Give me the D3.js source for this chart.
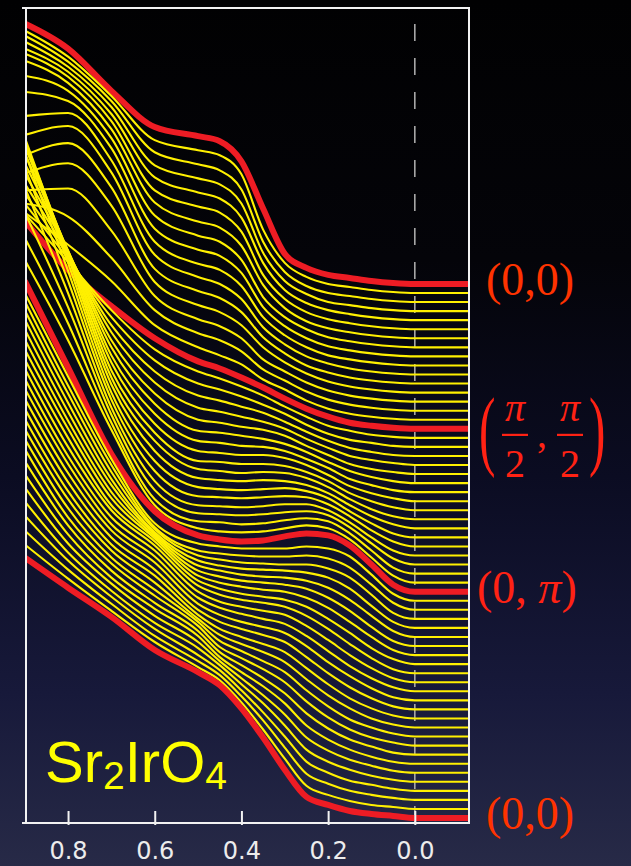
<!DOCTYPE html>
<html>
<head>
<meta charset="utf-8">
<script src="https://cdn.jsdelivr.net/npm/d3@7"></script>
<style>
  html, body { margin: 0; padding: 0; background: #000; }
  svg { display: block; }
</style>
</head>
<body>
<svg id="chart" width="631" height="866"></svg>
<script>
// Binding energy grid (eV) shared by every energy distribution curve
const energies = [0.9, 0.8, 0.7, 0.6, 0.5, 0.45, 0.4, 0.35, 0.3, 0.25, 0.2, 0.15, 0.1, 0.05, 0.0, -0.125];

// Intensities (a.u.) along (0,0) -> (pi/2,pi/2); first row is the (0,0) spectrum
const cutGammaToS = [
  [259,234,192,156,147,142,122,75,30,16,9,6,3,1,0,0],
  [261,235,196,152,142,137,118,63,30,16,9,6,3,1,0,0],
  [265,239,200,149,137,131,112,60,30,16,9,6,3,1,0,0],
  [268,243,203,145,132,126,107,58,30,17,9,6,3,1,0,0],
  [270,247,205,142,127,121,102,57,30,17,10,6,3,1,0,0],
  [274,251,207,138,122,116,97,54,30,17,10,6,3,1,0,0],
  [276,254,208,135,116,110,92,53,30,17,10,6,3,1,0,0],
  [270,255,208,131,111,105,87,50,30,18,10,6,3,1,0,0],
  [263,254,207,127,106,100,83,49,30,18,10,6,3,1,0,0],
  [248,251,204,123,101,95,79,48,30,18,10,6,3,1,0,0],
  [238,247,201,119,97,90,75,47,30,18,11,6,3,1,0,0],
  [227,239,195,114,92,85,71,46,30,18,11,6,3,1,0,0],
  [218,228,186,110,87,80,67,45,30,19,11,6,3,1,0,0],
  [210,212,170,105,82,75,63,42,30,19,11,6,3,1,0,0],
  [206,193,152,100,77,70,59,41,30,19,11,6,3,1,0,0],
  [206,174,138,94,72,64,55,40,30,19,11,6,3,1,0,0]
];

// Intensities along (pi/2,pi/2) -> (0,pi); first row is the (pi/2,pi/2) spectrum
const cutSToX = [
  [207,158,122,90,67,60,51,41,30,20,12,6,3,1,0,0],
  [223,175,127,88,66,59,51,42,31,21,12,7,3,1,0,0],
  [242,187,129,86,63,57,50,42,33,22,13,7,4,1,0,0],
  [261,199,130,84,60,55,49,43,34,24,15,8,4,1,0,0],
  [280,210,132,82,57,53,48,43,36,26,17,9,5,2,0,0],
  [299,221,133,80,54,51,47,44,38,28,19,10,5,2,0,0],
  [318,231,135,79,52,50,47,44,39,31,21,12,6,2,0,0],
  [337,240,136,78,51,49,46,45,41,33,24,13,7,2,0,0],
  [353,248,138,77,50,48,46,46,43,36,26,15,8,3,0,0],
  [368,255,139,77,49,48,46,46,44,38,29,17,9,3,0,0],
  [380,261,141,78,50,48,46,47,46,41,32,20,10,3,0,0],
  [384,264,143,77,50,48,47,48,47,43,35,23,12,4,0,0],
  [383,265,144,76,50,48,47,48,49,46,39,26,14,4,0,0],
  [377,264,146,75,50,49,48,49,50,49,42,30,16,5,0,0],
  [366,261,147,74,50,49,48,49,51,51,45,33,18,5,0,0],
  [350,256,149,74,51,50,49,50,52,53,49,37,21,6,0,0],
  [334,249,150,74,52,51,49,50,53,55,52,40,23,6,0,0],
  [321,241,152,77,54,51,50,51,54,57,54,43,25,7,0,0]
];

// Intensities along (0,pi) -> (0,0); first row is the (0,pi) spectrum
const cutXToGamma = [
  [309,223,137,80,56,52,50,51,55,58,56,46,27,7,0,0],
  [306,223,141,77,57,54,52,52,52,54,52,44,26,7,0,0],
  [307,223,144,82,59,56,54,53,53,54,51,42,25,7,0,0],
  [307,224,146,89,63,59,56,55,54,54,50,41,24,6,0,0],
  [307,224,148,95,67,62,59,58,57,55,50,39,22,6,0,0],
  [306,224,151,102,71,66,62,60,59,56,49,37,21,6,0,0],
  [305,224,153,109,75,69,65,63,61,57,48,35,19,5,0,0],
  [304,225,156,116,79,72,68,65,63,57,47,33,18,5,0,0],
  [303,225,158,122,83,75,70,67,64,57,45,31,16,5,0,0],
  [303,225,162,127,87,78,73,70,66,57,44,29,15,4,0,0],
  [302,225,164,131,90,80,75,71,67,56,42,27,14,4,0,0],
  [301,226,166,134,93,83,77,72,67,55,40,25,13,4,0,0],
  [300,226,169,137,96,85,78,73,67,54,38,24,12,3,0,0],
  [299,226,171,139,99,87,80,74,67,52,36,22,11,3,0,0],
  [298,226,173,142,103,89,81,74,66,50,34,20,10,3,0,0],
  [297,227,176,144,108,92,83,75,65,48,32,19,9,3,0,0],
  [296,227,178,146,114,95,85,75,64,46,30,17,9,3,0,0],
  [295,227,181,149,119,98,87,76,63,44,28,16,8,3,0,0],
  [292,228,183,151,123,102,89,76,61,41,26,15,8,2,0,0],
  [288,228,185,154,127,106,91,77,60,38,24,14,7,2,0,0],
  [284,228,188,156,130,111,94,77,58,35,22,13,7,2,0,0],
  [279,228,190,158,133,116,97,78,56,32,20,12,6,2,0,0],
  [274,229,193,161,135,120,100,78,54,29,18,10,6,2,0,0],
  [268,229,195,163,138,124,103,79,52,26,16,9,5,2,0,0],
  [263,229,197,166,141,128,106,79,50,23,14,8,4,2,0,0]
];

// Closing (0,0) spectrum
const cutGammaEnd = [
  [259,229,200,167,145,132,109,80,48,21,13,7,4,2,0,0]
];

// Stacking offset between consecutive spectra (a.u.)
const OFFSET = 9;

// Highlighted high-symmetry spectra and their labels
const symmetryPoints = [
  { index: 0,  kind: "text", text: "(0,0)" },
  { index: 16, kind: "frac" },
  { index: 34, kind: "pi",   text: "(0, " },
  { index: 59, kind: "text", text: "(0,0)" }
];

const xTicks = [0.8, 0.6, 0.4, 0.2, 0.0];

// ---------------------------------------------------------------------------
const W = 631, H = 866;
const plot = { left: 26, right: 469, top: 8, bottom: 823 };

const spectra = [].concat(cutGammaToS, cutSToX, cutXToGamma, cutGammaEnd);
const nCurves = spectra.length;
const highlighted = new Set(symmetryPoints.map(d => d.index));

const svg = d3.select("#chart");
const defs = svg.append("defs");

// Dark slide background: black at the top fading into navy at the bottom
const bg = defs.append("linearGradient").attr("id", "bg")
  .attr("x1", 0).attr("y1", 0).attr("x2", 0).attr("y2", 1);
[["0%", "#010102"], ["30%", "#040409"], ["55%", "#0b0c22"], ["80%", "#17193a"], ["100%", "#272a47"]]
  .forEach(([o, c]) => bg.append("stop").attr("offset", o).attr("stop-color", c));
svg.append("rect").attr("width", W).attr("height", H).attr("fill", "url(#bg)");

defs.append("clipPath").attr("id", "plotClip")
  .append("rect")
  .attr("x", plot.left).attr("y", plot.top)
  .attr("width", plot.right - plot.left).attr("height", plot.bottom - plot.top);

// Binding energy runs from high (left) to the Fermi level (right)
const x = d3.scaleLinear().domain([0.897, -0.125]).range([plot.left, plot.right]);
const y = d3.scaleLinear().domain([0, 805.4]).range([818, plot.top]);

const stacked = (k, I) => (nCurves - 1 - k) * OFFSET + I;

const line = d3.line()
  .x(d => x(d[0]))
  .y(d => y(d[1]))
  .curve(d3.curveMonotoneX);

// Fermi level marker
svg.append("line")
  .attr("x1", x(0)).attr("x2", x(0))
  .attr("y1", plot.top).attr("y2", plot.bottom)
  .attr("stroke", "#a8a8a8").attr("stroke-width", 1.6)
  .attr("stroke-dasharray", "17 17").attr("stroke-dashoffset", 18);

const curves = svg.append("g").attr("clip-path", "url(#plotClip)");
curves.selectAll("path")
  .data(spectra.map((row, k) => ({ k, pts: row.map((I, i) => [energies[i], stacked(k, I)]) })))
  .join("path")
  .attr("d", d => line(d.pts))
  .attr("fill", "none")
  .attr("stroke", d => highlighted.has(d.k) ? "#ee1c24" : "#fff000")
  .attr("stroke-width", d => highlighted.has(d.k) ? 6 : 2.1)
  .attr("stroke-linejoin", "round")
  .attr("stroke-linecap", "butt");

// Frame
const frame = svg.append("g").attr("stroke", "#f2f2f2").attr("stroke-width", 2);
frame.append("line").attr("x1", plot.left - 4).attr("x2", plot.right + 1).attr("y1", plot.top).attr("y2", plot.top);
frame.append("line").attr("x1", plot.left - 4).attr("x2", plot.right + 1).attr("y1", plot.bottom).attr("y2", plot.bottom);
frame.append("line").attr("x1", plot.left).attr("x2", plot.left).attr("y1", plot.top).attr("y2", plot.bottom);
frame.append("line").attr("x1", plot.right).attr("x2", plot.right).attr("y1", plot.top).attr("y2", plot.bottom);

// Energy axis
const axis = d3.axisBottom(x)
  .tickValues(xTicks)
  .tickFormat(d3.format(".1f"))
  .tickSizeInner(-12)
  .tickSizeOuter(0)
  .tickPadding(19);
const ax = svg.append("g").attr("transform", `translate(0,${plot.bottom})`).call(axis);
ax.select(".domain").remove();
ax.selectAll(".tick line").attr("stroke", "#f2f2f2").attr("stroke-width", 2).attr("y1", 2);
ax.selectAll(".tick text")
  .attr("fill", "#ececec")
  .attr("font-family", "DejaVu Sans, sans-serif")
  .attr("font-size", 24);

// Compound label
const comp = svg.append("text")
  .attr("x", 45).attr("y", 782)
  .attr("fill", "#ffff00")
  .attr("font-family", "Liberation Sans, Arial, sans-serif")
  .attr("font-size", 58);
comp.append("tspan").text("Sr");
comp.append("tspan").attr("font-size", 39).attr("dy", 7).text("2");
comp.append("tspan").attr("dy", -7).text("IrO");
comp.append("tspan").attr("font-size", 39).attr("dy", 7).text("4");

// High-symmetry point labels next to the highlighted spectra
const labelColor = "#ff2214";
const serif = "Liberation Serif, Times New Roman, serif";
symmetryPoints.forEach(p => {
  const yb = y(stacked(p.index, 0));
  if (p.kind === "text") {
    svg.append("text")
      .attr("x", 486).attr("y", yb + 11)
      .attr("fill", "#ff3300")
      .attr("font-family", serif).attr("font-size", 46)
      .text(p.text);
  } else if (p.kind === "pi") {
    const t = svg.append("text")
      .attr("x", 477).attr("y", yb + 11)
      .attr("fill", labelColor)
      .attr("font-family", serif).attr("font-size", 46);
    t.append("tspan").text(p.text);
    t.append("tspan").attr("font-style", "italic").text("\u03c0");
    t.append("tspan").text(")");
  } else {
    const g = svg.append("g").attr("fill", labelColor).attr("font-family", serif);
    const bar = yb + 6;
    // tall, slender delimiters
    [[479, "("], [589, ")"]].forEach(([px, ch]) => {
      g.append("text").attr("x", 0).attr("y", 0)
        .attr("font-size", 88)
        .attr("transform", `translate(${px},${bar + 24}) scale(0.56,1)`)
        .text(ch);
    });
    [515, 570].forEach(cx => {
      g.append("text").attr("x", cx).attr("y", bar - 14).attr("text-anchor", "middle")
        .attr("font-size", 40).attr("font-style", "italic").text("\u03c0");
      g.append("rect").attr("x", cx - 13).attr("y", bar - 1).attr("width", 26).attr("height", 2.2);
      g.append("text").attr("x", cx).attr("y", bar + 42).attr("text-anchor", "middle")
        .attr("font-size", 40).text("2");
    });
    g.append("text").attr("x", 537).attr("y", bar + 12).attr("font-size", 40).text(",");
  }
});
</script>
</body>
</html>
